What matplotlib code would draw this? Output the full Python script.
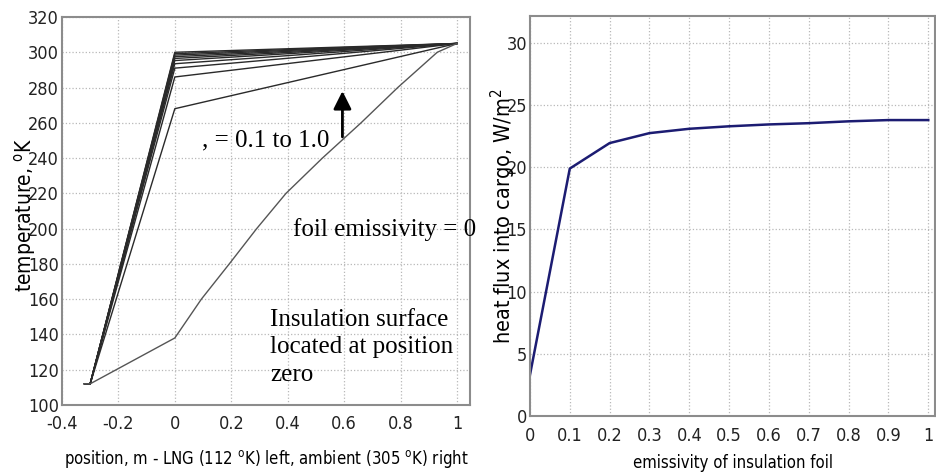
import matplotlib
matplotlib.use('Agg')
import matplotlib.pyplot as plt
from matplotlib import font_manager

# narrow sans for the axis text if there is one, serif for the notes
fonts = font_manager.fontManager.ttflist
names = set(f.name for f in fonts)
if 'Liberation Sans Narrow' in names:
    sans, stretch, tsize, lsize = 'Liberation Sans Narrow', 'normal', 15, 14
elif any(f.name == 'DejaVu Sans' and f.stretch == 'condensed' for f in fonts):
    sans, stretch, tsize, lsize = 'DejaVu Sans', 'condensed', 13, 12
else:
    sans, stretch, tsize, lsize = 'DejaVu Sans', 'normal', 11.5, 10.8
serif = 'Liberation Serif' if 'Liberation Serif' in names else 'DejaVu Serif'

plt.rcParams['font.family'] = sans
plt.rcParams['font.stretch'] = stretch
plt.rcParams['mathtext.fontset'] = 'custom'
plt.rcParams['mathtext.rm'] = sans
plt.rcParams['mathtext.default'] = 'regular'

# left chart: temperature profile through the insulation
pos_eps0 = [-0.32, -0.3, 0, 0.094, 0.193, 0.29, 0.394, 0.523, 0.66, 0.79, 0.93, 1.0]
temp_eps0 = [112, 112, 138, 160, 180, 200, 220, 240, 260, 280, 300, 305]
pos_foil = [-0.32, -0.3, 0, 1.0]
surface_temps = [268, 286, 291, 293.5, 295.3, 296.5, 297.5, 298.4, 299.2, 300]
t_lng = 112
t_amb = 305

# right chart: heat flux vs foil emissivity
emissivity = [0, 0.1, 0.2, 0.3, 0.4, 0.5, 0.6, 0.7, 0.8, 0.9, 1.0]
heat_flux = [3.3, 19.9, 21.95, 22.75, 23.1, 23.3, 23.45, 23.55, 23.7, 23.8, 23.8]

fig = plt.figure(figsize=(9.36, 4.75), dpi=100)
ax1 = fig.add_axes([0.0662, 0.1474, 0.4359, 0.8168])
ax2 = fig.add_axes([0.5662, 0.1242, 0.4330, 0.8421])

grid_kw = dict(color='#b8b8b8', linestyle=':', linewidth=0.9)
for ax in (ax1, ax2):
    ax.grid(True, **grid_kw)
    ax.tick_params(length=0, labelsize=tsize, colors='#222222')
    for sp in ax.spines.values():
        sp.set_color('#8c8c8c')
        sp.set_linewidth(1.5)

ax1.tick_params(axis='x', pad=7)
ax1.tick_params(axis='y', pad=2)
ax2.tick_params(axis='x', pad=8)
ax2.tick_params(axis='y', pad=2)

# left
for t0 in surface_temps:
    ax1.plot(pos_foil, [t_lng, t_lng, t0, t_amb], color='#2a2a2a', linewidth=1.0)
ax1.plot(pos_eps0, temp_eps0, color='#555555', linewidth=1.0)

ax1.set_xlim(-0.4, 1.046)
ax1.set_ylim(100, 320)
ax1.set_xticks([-0.4, -0.2, 0, 0.2, 0.4, 0.6, 0.8, 1.0])
ax1.set_xticklabels(['-0.4', '-0.2', '0', '0.2', '0.4', '0.6', '0.8', '1'])
ax1.set_yticks(range(100, 321, 20))
ax1.set_xlabel('position, m - LNG (112 $^{o}$K) left, ambient (305 $^{o}$K) right', fontsize=lsize)
ax1.set_ylabel('temperature, $^{o}$K', fontsize=lsize + 3)
ax1.xaxis.set_label_coords(0.5, -0.11)
ax1.yaxis.set_label_coords(-0.058, 0.49)

ax1.text(0.096, 246.4, ', = 0.1 to 1.0', family=serif, fontsize=18, va='baseline')
ax1.text(0.419, 195.8, 'foil emissivity = 0', family=serif, fontsize=18, va='baseline',
         clip_on=False)
ax1.text(0.337, 154.5, 'Insulation surface\nlocated at position\nzero', family=serif,
         fontsize=18, va='top', linespacing=1.33)
ax1.annotate('', xy=(0.594, 278), xytext=(0.594, 252),
             arrowprops=dict(arrowstyle='-|>,head_length=0.4,head_width=0.2',
                             color='black', lw=2, mutation_scale=27,
                             shrinkA=0, shrinkB=0))

# right
ax2.plot(emissivity, heat_flux, color='#1c1c72', linewidth=1.8)
ax2.set_xlim(0, 1.0176)
ax2.set_ylim(0, 32.17)
ax2.set_xticks(emissivity)
ax2.set_xticklabels(['0', '0.1', '0.2', '0.3', '0.4', '0.5', '0.6', '0.7', '0.8', '0.9', '1'])
ax2.set_yticks(range(0, 31, 5))
ax2.set_xlabel('emissivity of insulation foil', fontsize=lsize)
ax2.set_ylabel('heat flux into cargo, W/m$^{2}$', fontsize=lsize + 3.5)
ax2.xaxis.set_label_coords(0.5, -0.095)
ax2.yaxis.set_label_coords(-0.03, 0.5)

fig.savefig('out.png', dpi=100)
